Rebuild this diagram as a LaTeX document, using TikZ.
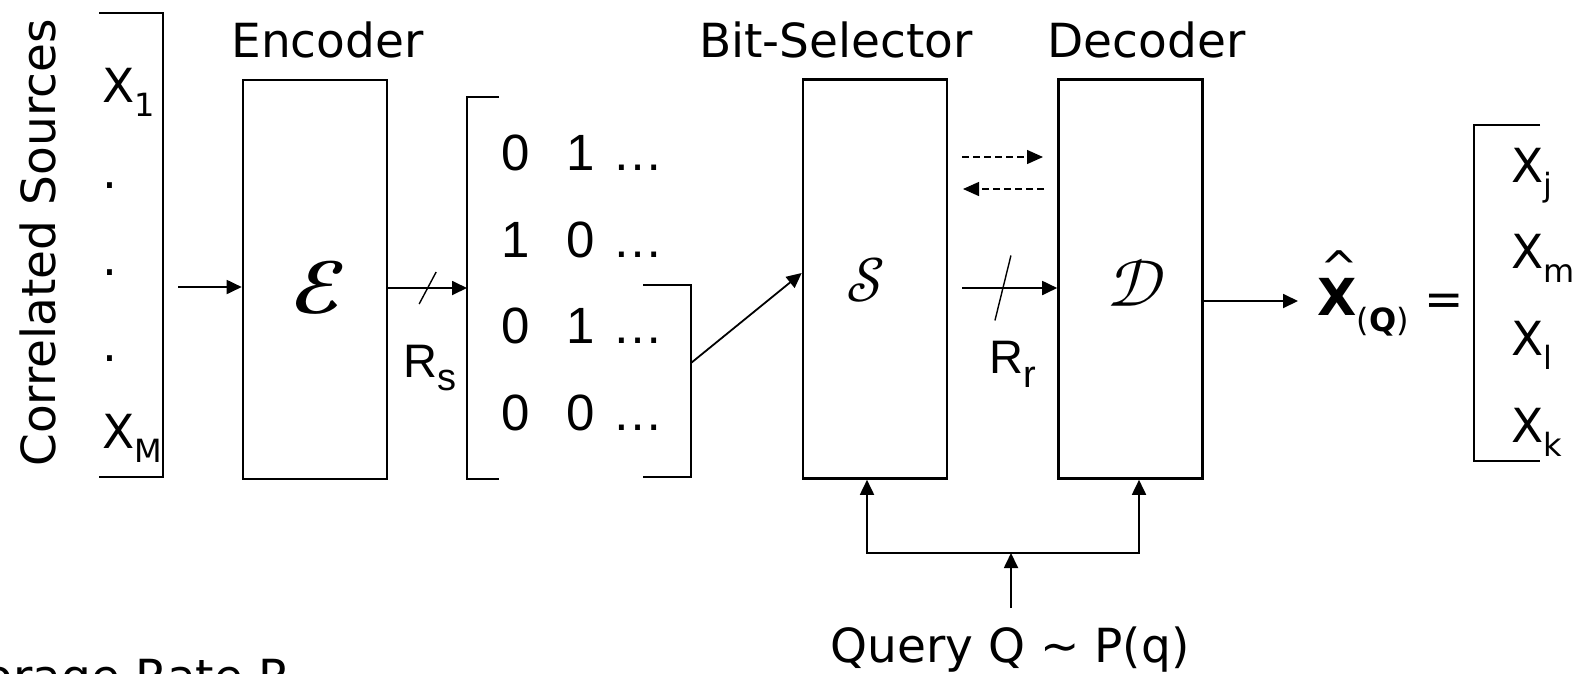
\documentclass[tikz,border=0pt]{standalone}
\usepackage{fontspec}
\usepackage{unicode-math}
\setmainfont{DejaVu Sans}
\newfontfamily\arialf{Liberation Sans}
\setmathfont{Latin Modern Math}
\usetikzlibrary{arrows.meta,calc}
\newcommand\fsz[1]{\fontsize{#1}{#1}\selectfont}
\newcommand\lowsub[3]{\raisebox{-#1pt}{\fsz{#2}#3}}
\begin{document}
\begin{tikzpicture}[x=1pt,y=-1pt,
  box/.style={draw,line width=2.6pt,minimum width=144pt,minimum height=399pt,inner sep=0pt},
  brk/.style={line width=2.3pt},
  arr/.style={line width=1.8pt,-{Triangle[length=15pt,width=14pt]}},
  darr/.style={line width=1.4pt,dash pattern=on 7pt off 4pt,-{Triangle[length=16pt,width=14pt]}},
  slash/.style={line width=1.4pt},
  lbl/.style={inner sep=0pt,font=\fsz{47}},
  dig/.style={inner sep=0pt,font=\arialf\fsz{51}},
  ]
\useasboundingbox (0,0) rectangle (1579,673);
\clip (0,0) rectangle (1579,673);

% boxes
\node[box] (enc) at (315,279.5) {};
\node[box] (sel) at (875,279) {};
\node[box] (dec) at (1130.5,279) {};
\node[inner sep=0pt] (Eg) at (320,288) {\fsz{74}$\symbfcal{E}$};
\node[inner sep=0pt] (Sg) at (866,280) {\fsz{62}$\symcal{S}$};
\node[inner sep=0pt] (Dg) at (1137,283) {\fsz{66}$\symcal{D}$};

% labels
\node[lbl,anchor=base] (encl) at (327.5,57) {Encoder};
\node[lbl,anchor=base] (sell) at (836,57) {Bit-Selector};
\node[lbl,anchor=base] (decl) at (1146.5,57) {Decoder};
\node[lbl,anchor=base,rotate=90] (csrc) at (55,243) {Correlated Sources};

% sources
\draw[brk] (99,13) -- (163,13) -- (163,477) -- (99,477);
\node[lbl,anchor=base west] (x1) at (102,102) {X\lowsub{14}{32}{1}};
\node[lbl,anchor=base west] (d1) at (102,188) {.};
\node[lbl,anchor=base west] (d2) at (102,275) {.};
\node[lbl,anchor=base west] (d3) at (102,361) {.};
\node[lbl,anchor=base west] (xM) at (102,448) {X\lowsub{14}{32}{M}};

\coordinate (srcR) at (178,287);
\draw[arr] (srcR) -- (srcR -| enc.west);

% encoder to matrix
\coordinate (matL) at (467,288);
\draw[arr] (enc.east |- matL) -- (matL);
\coordinate (sl1) at ($(enc.east |- matL)!0.5!(matL)$);
\draw[slash] (sl1) +(-8.5,16) -- +(8.5,-16);
\node[inner sep=0pt,anchor=base west,font=\arialf\fsz{47}] (rs) at (403,377) {R\lowsub{13}{38}{s}};

% matrix
\draw[brk] (499,97) -- (467,97) -- (467,479) -- (499,479);
\draw[brk] (643,285) -- (691,285) -- (691,477) -- (643,477);
\node[dig,anchor=base west] (r1) at (501,170) {\makebox[65pt][l]{0}\makebox[46pt][l]{1}…};
\node[dig,anchor=base west] (r2) at (501,257) {\makebox[65pt][l]{1}\makebox[46pt][l]{0}…};
\node[dig,anchor=base west] (r3) at (501,343) {\makebox[65pt][l]{0}\makebox[46pt][l]{1}…};
\node[dig,anchor=base west] (r4) at (501,430) {\makebox[65pt][l]{0}\makebox[46pt][l]{0}…};

\coordinate (brkR) at (691,363);
\draw[arr] (brkR) -- ([yshift=6pt]sel.west);

% selector to decoder
\coordinate (da1) at (962,157);
\coordinate (da2) at (1043,157);
\draw[darr] (da1) -- (da2);
\coordinate (db1) at (1044,189);
\coordinate (db2) at (963,189);
\draw[darr] (db1) -- (db2);
\coordinate (sdS) at (962,288);
\draw[arr] (sdS) -- (sdS -| dec.west);
\coordinate (sl2) at ($(sdS)!0.43!(sdS -| dec.west)$);
\draw[slash] (sl2) +(-8,32.5) -- +(8,-32.5);
\node[inner sep=0pt,anchor=base west,font=\arialf\fsz{47}] (rr) at (989,373) {R\lowsub{14}{38}{r}};

% output
\coordinate (xhatL) at (1298,301);
\draw[arr] (xhatL -| dec.east) -- (xhatL);
\node[inner sep=0pt,anchor=base west] (xq) at (1317,315) {\fsz{51}\bfseries X\lowsub{16}{32}{{\mdseries(}Q{\mdseries)}}\hspace{16pt}{\mdseries\fsz{47}=}};
\node[inner sep=0pt,anchor=base] (hat) at (1339,283) {\fsz{45}\textasciicircum};
\draw[brk] (1540,125) -- (1474,125) -- (1474,461) -- (1540,461);
\node[lbl,anchor=base west] (xj) at (1511,182) {X\lowsub{14}{32}{j}};
\node[lbl,anchor=base west] (xm) at (1511,268) {X\lowsub{14}{32}{m}};
\node[lbl,anchor=base west] (xl) at (1511,355) {X\lowsub{14}{32}{l}};
\node[lbl,anchor=base west] (xk) at (1511,442) {X\lowsub{14}{32}{k}};

% query
\coordinate (qL) at (867,553);
\coordinate (qR) at (1139,553);
\coordinate (qM) at (1011,553);
\coordinate (qS) at (1011,608);
\draw[arr] (qM) -- (qL) -- (qL |- sel.south);
\draw[arr] (qM) -- (qR) -- (qR |- dec.south);
\draw[arr] (qS) -- (qM);
\node[lbl,anchor=base] (query) at (1010,662) {Query Q \textasciitilde{} P(q)};

\node[lbl,anchor=base east] (stor) at (291,693) {Storage Rate R};
\end{tikzpicture}
\end{document}
